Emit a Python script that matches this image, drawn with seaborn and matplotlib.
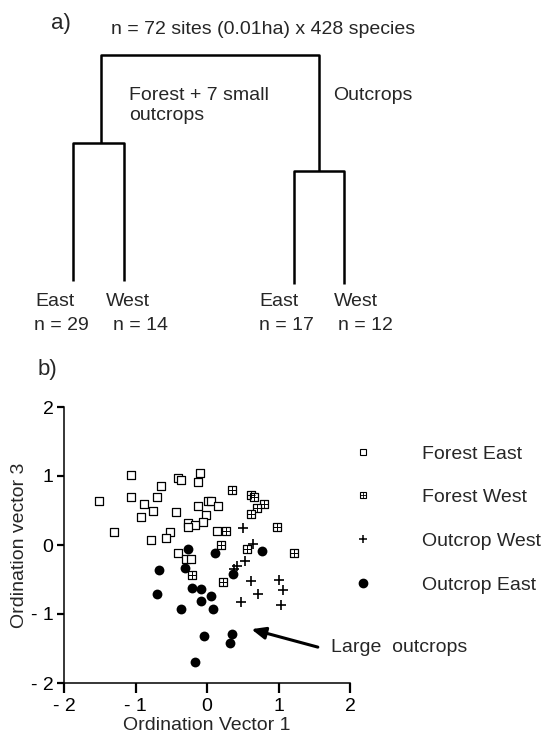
import matplotlib
matplotlib.use("Agg")
import matplotlib.pyplot as plt
from matplotlib.lines import Line2D
from matplotlib.legend_handler import HandlerTuple
import seaborn as sns
import pandas as pd

sns.set_theme(style="white")
plt.rcParams['font.family'] = ['Liberation Sans', 'DejaVu Sans']

# ---------------- data ----------------
# a) dendrogram
group_labels = ["East", "West", "East", "West"]
group_n = [29, 14, 17, 12]
merge_height_left = 1.38
merge_height_right = 1.10
merge_height_root = 2.26
title_a = "n = 72 sites (0.01ha) x 428 species"

# b) ordination scores (vector 1, vector 3)
forest_east_x = [-1.06, -0.41, -0.36, -0.10, -0.13, -0.64, -1.51, -1.06, -0.70, -0.88,
                 -0.75, -0.93, -0.43, -0.13, 0.02, 0.06, 0.16, -0.02, -0.05, -0.26,
                 -0.17, -0.26, -1.30, -0.52, -0.57, -0.78, 0.14, -0.41, -0.29, -0.23]
forest_east_y = [1.02, 0.97, 0.94, 1.05, 0.91, 0.86, 0.64, 0.70, 0.70, 0.59,
                 0.50, 0.40, 0.48, 0.56, 0.64, 0.64, 0.56, 0.43, 0.34, 0.32,
                 0.29, 0.26, 0.19, 0.19, 0.10, 0.07, 0.20, -0.12, -0.20, -0.20]
forest_west_x = [0.35, 0.61, 0.66, 0.80, 0.70, 0.62, 0.98, 0.27, 0.19, 0.56, 1.21, -0.21, 0.22]
forest_west_y = [0.80, 0.72, 0.70, 0.59, 0.53, 0.45, 0.26, 0.21, 0.00, -0.06, -0.12, -0.44, -0.53]
outcrop_west_x = [0.50, 0.65, 0.53, 0.42, 0.38, 0.61, 1.00, 1.06, 0.71, 0.47, 1.03]
outcrop_west_y = [0.24, 0.02, -0.23, -0.31, -0.35, -0.52, -0.50, -0.65, -0.71, -0.82, -0.87]
outcrop_east_x = [-0.26, 0.11, 0.77, -0.67, -0.31, 0.37, -0.70, -0.21, -0.08, 0.05,
                  -0.08, -0.36, 0.09, -0.04, 0.35, 0.32, -0.17]
outcrop_east_y = [-0.06, -0.11, -0.09, -0.36, -0.33, -0.42, -0.71, -0.63, -0.64, -0.74,
                  -0.81, -0.93, -0.93, -1.32, -1.29, -1.42, -1.70]

ticks = [-2, -1, 0, 1, 2]
tick_labels = ["- 2", "- 1", "0", "1", "2"]
legend_labels = ["Forest East", "Forest West", "Outcrop West", "Outcrop East"]

# ---------------- figure ----------------
W, H = 541, 736
fig = plt.figure(figsize=(W / 100, H / 100), dpi=100)
fig.patch.set_facecolor("white")


def fx(px):
    return px / W


def fy(py):
    return 1 - py / H


FS = 14

# ---- panel a: dendrogram ----
ax_a = fig.add_axes([fx(73), fy(281), fx(344 - 73), (281 - 55) / H])
ax_a.set_axis_off()
leaf_x = [0.0, 1.0, 4.33, 5.31]  # layout positions of the 4 leaves
ax_a.set_xlim(leaf_x[0], leaf_x[3])
ax_a.set_ylim(0, merge_height_root)
lw = 1.8
kw = dict(color="black", lw=lw, solid_capstyle="butt", clip_on=False)
# left cluster
ax_a.plot([leaf_x[0], leaf_x[0], leaf_x[1], leaf_x[1]],
          [0, merge_height_left, merge_height_left, 0], **kw)
# right cluster
ax_a.plot([leaf_x[2], leaf_x[2], leaf_x[3], leaf_x[3]],
          [-0.03, merge_height_right, merge_height_right, -0.03], **kw)
# root
mid_l = (leaf_x[0] + leaf_x[1]) / 2 + 0.05
mid_r = (leaf_x[2] + leaf_x[3]) / 2
ax_a.plot([mid_l, mid_l, mid_r, mid_r],
          [merge_height_left, merge_height_root, merge_height_root, merge_height_right], **kw)

fig.text(fx(51), fy(23), "a)", fontsize=16, va="center", ha="left")
fig.text(fx(111), fy(30), title_a, fontsize=FS, va="center", ha="left")
fig.text(fx(129), fy(95), "Forest + 7 small", fontsize=FS, va="center", ha="left")
fig.text(fx(129), fy(116), "outcrops", fontsize=FS, va="center", ha="left")
fig.text(fx(333), fy(95), "Outcrops", fontsize=FS, va="center", ha="left")
name_x = [35, 106, 259, 334]
n_x = [34, 113, 259, 338]
for lab, n, px1, px2 in zip(group_labels, group_n, name_x, n_x):
    fig.text(fx(px1), fy(302), lab, fontsize=FS, va="center", ha="left")
    fig.text(fx(px2), fy(326), f"n = {n}", fontsize=FS, va="center", ha="left")

# ---- panel b: ordination ----
ax = fig.add_axes([fx(64), fy(683), fx(350 - 64), (683 - 407) / H])
ax.set_facecolor("white")

df_fe = pd.DataFrame({"x": forest_east_x, "y": forest_east_y})
df_fw = pd.DataFrame({"x": forest_west_x, "y": forest_west_y})
df_ow = pd.DataFrame({"x": outcrop_west_x, "y": outcrop_west_y})
df_oe = pd.DataFrame({"x": outcrop_east_x, "y": outcrop_east_y})

sq = 28
sns.scatterplot(data=df_fe, x="x", y="y", marker="s", s=sq, facecolor="white",
                edgecolor="black", linewidth=0.9, ax=ax, zorder=3)
sns.scatterplot(data=df_fw, x="x", y="y", marker="s", s=sq, facecolor="white",
                edgecolor="black", linewidth=0.9, ax=ax, zorder=3)
sns.scatterplot(data=df_fw, x="x", y="y", marker="+", s=sq, color="black",
                linewidth=0.7, ax=ax, zorder=4)
sns.scatterplot(data=df_ow, x="x", y="y", marker="+", s=55, color="black",
                linewidth=1.2, ax=ax, zorder=3)
sns.scatterplot(data=df_oe, x="x", y="y", marker="o", s=50, color="black",
                edgecolor="black", linewidth=0, ax=ax, zorder=3)

ax.set_xlim(-2, 2)
ax.set_ylim(-2, 2)
ax.set_xticks(ticks)
ax.set_xticklabels(tick_labels)
ax.set_yticks(ticks)
ax.set_yticklabels(tick_labels)
for side in ["top", "right"]:
    ax.spines[side].set_visible(False)
for side in ["left", "bottom"]:
    ax.spines[side].set_visible(True)
    ax.spines[side].set_color("black")
    ax.spines[side].set_linewidth(1.1)
ax.tick_params(axis="both", direction="out", width=1.6, colors="black",
               labelsize=FS, bottom=True, left=True)
ax.tick_params(axis="x", length=7.5, pad=3.5)
ax.tick_params(axis="y", length=5, pad=2.5)
ax.set_xlabel("")
ax.set_ylabel("")
ax.grid(False)

fig.text(fx(207), fy(726), "Ordination Vector 1", fontsize=FS, ha="center", va="center")
fig.text(fx(20), fy(545), "Ordination vector 3", fontsize=FS, ha="center", va="center",
         rotation=90)
fig.text(fx(38), fy(369), "b)", fontsize=16, ha="left", va="center")

# arrow + label
ax.annotate("", xy=(0.62, -1.22), xytext=(1.55, -1.48),
            arrowprops=dict(arrowstyle="-|>,head_length=0.7,head_width=0.3",
                            color="black", lw=2.2, shrinkA=0, shrinkB=0),
            annotation_clip=False)
fig.text(fx(331), fy(648), "Large  outcrops", fontsize=FS, ha="left", va="center")

# legend
h_fe = Line2D([], [], marker="s", ls="", markersize=4, markerfacecolor="white",
              markeredgecolor="black", markeredgewidth=0.8)
h_fw_sq = Line2D([], [], marker="s", ls="", markersize=4, markerfacecolor="white",
                 markeredgecolor="black", markeredgewidth=0.8)
h_fw_pl = Line2D([], [], marker="+", ls="", markersize=4, markeredgecolor="black",
                 markeredgewidth=0.6)
h_ow = Line2D([], [], marker="+", ls="", markersize=6, markeredgecolor="black",
              markeredgewidth=1.1)
h_oe = Line2D([], [], marker="o", ls="", markersize=6, markerfacecolor="black",
              markeredgecolor="black")
leg = fig.legend([h_fe, (h_fw_sq, h_fw_pl), h_ow, h_oe], legend_labels,
                 handler_map={tuple: HandlerTuple(ndivide=1, pad=0)},
                 loc="upper left", bbox_to_anchor=(fx(353.3), fy(445)),
                 bbox_transform=fig.transFigure, frameon=False, fontsize=FS,
                 handlelength=1.0, handletextpad=2.54, labelspacing=1.34,
                 borderpad=0, borderaxespad=0)

fig.savefig("out.png", dpi=100, facecolor="white")
